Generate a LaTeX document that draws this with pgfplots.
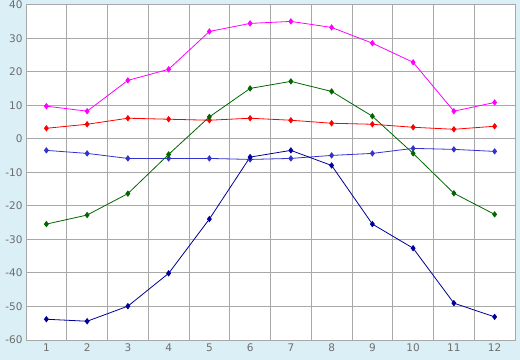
\documentclass[border=0pt]{standalone}
\usepackage{pgfplots}
\pgfplotsset{compat=1.18}
\usepackage{fontspec}
\setmainfont{DejaVu Sans}
\definecolor{bgblue}{HTML}{DAEFF6}
\definecolor{gridgray}{HTML}{A8A8A8}
\definecolor{labgray}{HTML}{6E6E6E}
\definecolor{cmag}{HTML}{FF00FF}
\definecolor{cred}{HTML}{FF0000}
\definecolor{cblue}{HTML}{3333CC}
\definecolor{cgreen}{HTML}{006600}
\definecolor{cnavy}{HTML}{000099}
\begin{document}
\begin{tikzpicture}
\fill[bgblue] (-26bp,-20bp) rectangle (494bp,340bp);
\begin{axis}[
  at={(0,0)}, anchor=south west,
  scale only axis, width=489bp, height=335bp,
  xmin=0.5, xmax=12.5, ymin=-60, ymax=40,
  xtick={1,...,12},
  minor xtick={1.5,2.5,...,11.5},
  ytick={-60,-50,...,40},
  xmajorgrids=false, xminorgrids=true, ymajorgrids=true,
  major tick length=0pt, minor tick length=0pt,
  grid style={gridgray, line width=1bp},
  minor grid style={gridgray, line width=1bp},
  axis line style={gridgray, line width=1bp},
  axis background/.style={fill=white},
  tick label style={font=\fontsize{10.5bp}{12bp}\selectfont, text=labgray},
  /pgf/number format/assume math mode=true,
  every axis plot/.append style={line width=0.8bp, mark=diamond*, mark size=2.6bp, mark options={solid}},
]
\addplot[cmag, mark options={fill=cmag}] coordinates {(1,9.8)(2,8.3)(3,17.5)(4,20.8)(5,32.1)(6,34.5)(7,35.1)(8,33.3)(9,28.6)(10,22.9)(11,8.3)(12,10.9)};
\addplot[cred, mark options={fill=cred}] coordinates {(1,3.2)(2,4.4)(3,6.2)(4,5.9)(5,5.6)(6,6.2)(7,5.6)(8,4.7)(9,4.4)(10,3.5)(11,2.9)(12,3.8)};
\addplot[cblue, mark options={fill=cblue}] coordinates {(1,-3.4)(2,-4.3)(3,-5.8)(4,-5.8)(5,-5.8)(6,-6.1)(7,-5.8)(8,-4.9)(9,-4.3)(10,-2.8)(11,-3.1)(12,-3.7)};
\addplot[cgreen, mark options={fill=cgreen}] coordinates {(1,-25.4)(2,-22.7)(3,-16.3)(4,-4.6)(5,6.6)(6,15.1)(7,17.2)(8,14.2)(9,6.8)(10,-4.3)(11,-16.2)(12,-22.5)};
\addplot[cnavy, mark options={fill=cnavy}] coordinates {(1,-53.8)(2,-54.4)(3,-49.9)(4,-40.1)(5,-23.9)(6,-5.4)(7,-3.4)(8,-7.9)(9,-25.4)(10,-32.6)(11,-49.0)(12,-53.1)};
\end{axis}
\pgfresetboundingbox
\path[use as bounding box] (-26bp,-20bp) rectangle (494bp,340bp);
\end{tikzpicture}
\end{document}
